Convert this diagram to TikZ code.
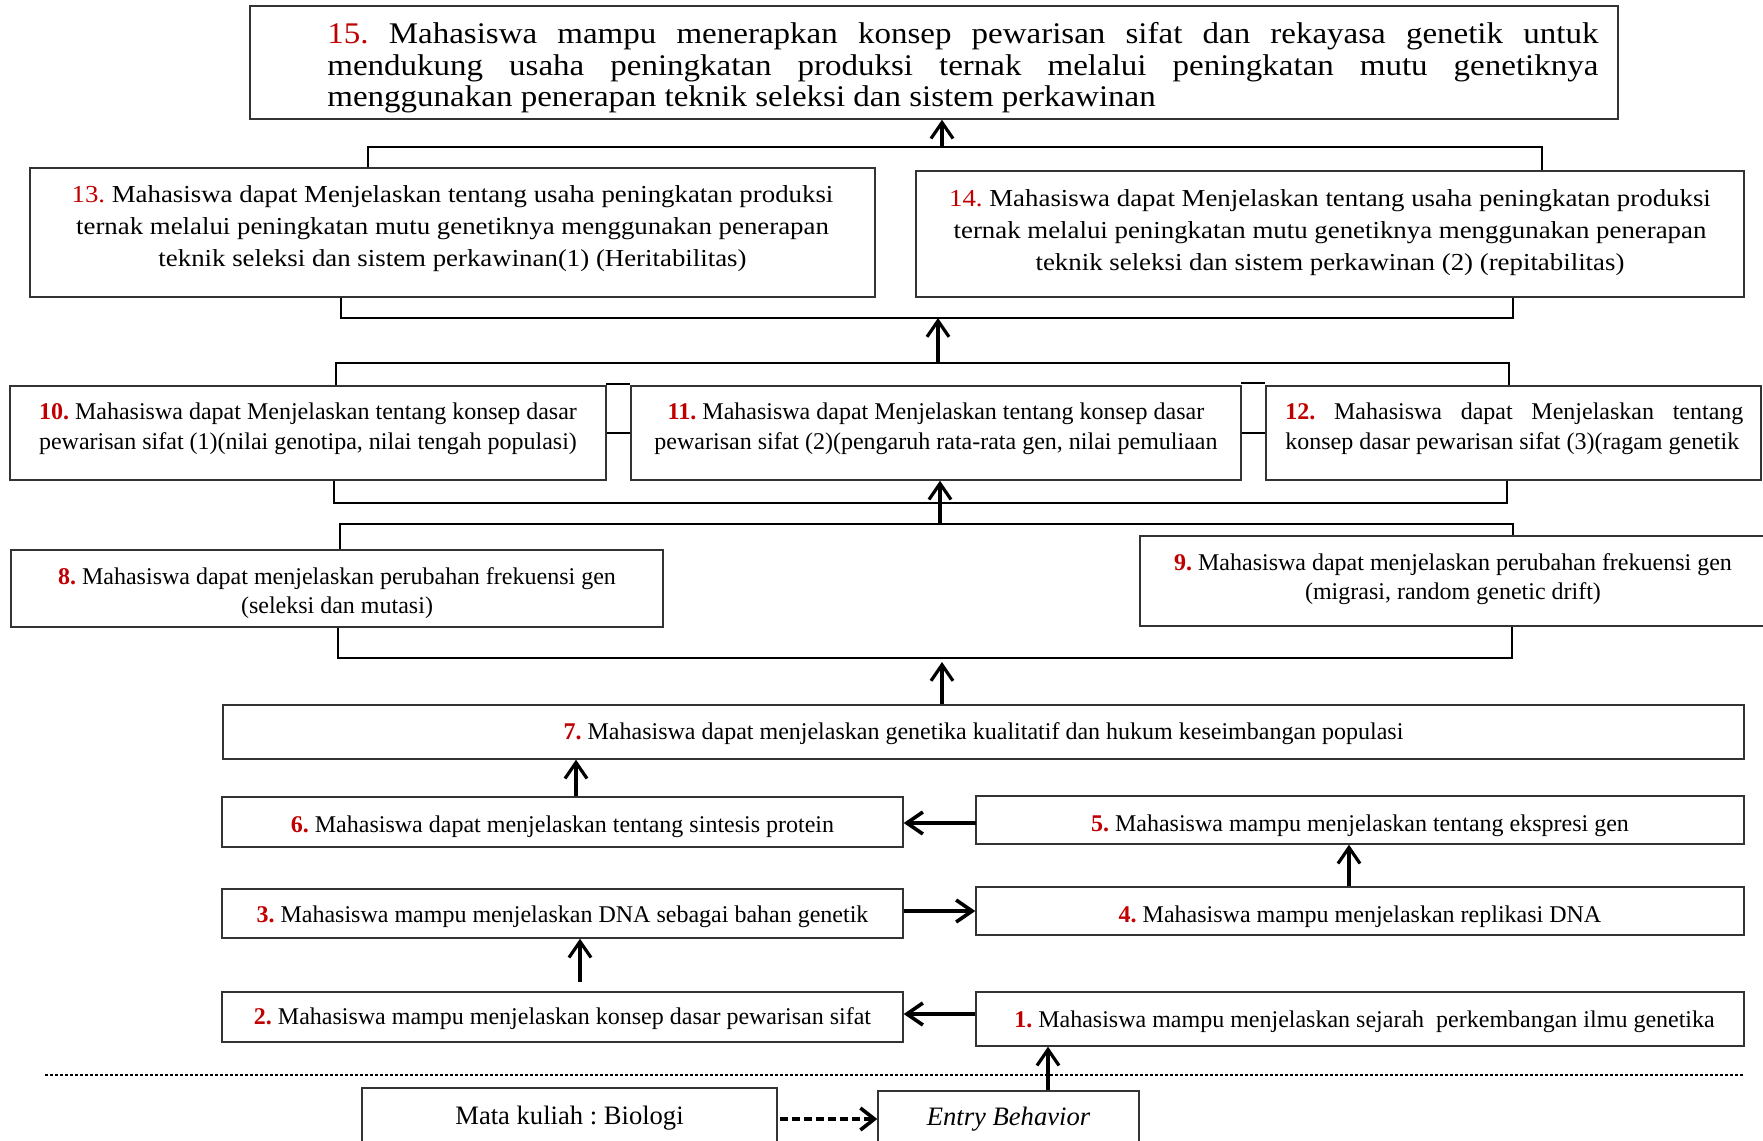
\documentclass[tikz,border=0pt]{standalone}
\usepackage{fontspec}
\setmainfont{Liberation Serif}
\newfontfamily\antiqua[FakeStretch=1.1]{Liberation Serif}
\usetikzlibrary{arrows.meta}
\definecolor{numred}{HTML}{C00000}
\newcommand\nb[1]{\textcolor{numred}{\textbf{#1}}}
\newcommand\nr[1]{\textcolor{numred}{#1}}
\hyphenpenalty=10000
\exhyphenpenalty=10000
\frenchspacing
\begin{document}
\begin{tikzpicture}[x=0.5pt,y=-0.5pt,
  bx/.style={draw=black!80, line width=0.7pt, rectangle, inner sep=0pt},
  txt/.style={inner sep=0pt, align=center, font=\fontsize{12}{14.8}\selectfont},
  ttl/.style={inner sep=0pt, align=center, font=\antiqua\fontsize{12.2}{16}\selectfont},
  bus/.style={line width=0.7pt},
  arrv/.style={line width=2pt, -{Straight Barb[length=8pt,width=11pt,line width=1.6pt]}},
  arrh/.style={line width=2.3pt, -{Straight Barb[length=8pt,width=11pt,line width=1.8pt]}},
  arrd/.style={line width=2pt, dash pattern=on 4pt off 2pt, -{Straight Barb[length=7pt,width=11pt,line width=1.8pt]}},
]
\useasboundingbox (0,0) rectangle (1763,1141);

% boxes
\node[bx, minimum width=684pt, minimum height=56.5pt] (b15) at (934,62.5) {};
\node[bx, minimum width=422.5pt, minimum height=64.5pt] (b13) at (452.5,232.5) {};
\node[bx, minimum width=414pt, minimum height=63pt] (b14) at (1330,234) {};
\node[bx, minimum width=298pt, minimum height=47pt] (b10) at (308,433) {};
\node[bx, minimum width=305pt, minimum height=47pt] (b11) at (936,433) {};
\node[bx, minimum width=247.5pt, minimum height=47pt] (b12) at (1513.5,433) {};
\node[bx, minimum width=326pt, minimum height=38.5pt] (b8) at (337,588.5) {};
\node[bx, minimum width=315pt, minimum height=45pt] (b9) at (1455,581) {};
\node[bx, minimum width=760.5pt, minimum height=27pt] (b7) at (983.5,732) {};
\node[bx, minimum width=340.5pt, minimum height=25pt] (b6) at (562.5,822) {};
\node[bx, minimum width=384pt, minimum height=24pt] (b5) at (1360,820) {};
\node[bx, minimum width=340.5pt, minimum height=24.5pt] (b3) at (562.5,913.5) {};
\node[bx, minimum width=384pt, minimum height=24pt] (b4) at (1360,911) {};
\node[bx, minimum width=340.5pt, minimum height=25pt] (b2) at (562.5,1017) {};
\node[bx, minimum width=384pt, minimum height=27pt] (b1) at (1360,1019) {};
\node[bx, minimum width=207.5pt, minimum height=31pt] (bm) at (569.5,1119) {};
\node[bx, minimum width=130.5pt, minimum height=29.5pt] (be) at (1008.5,1120.5) {};

% texts
\node[inner sep=0pt, anchor=west, align=left, font=\antiqua\fontsize{15}{15.75}\selectfont] (t15) at (327,68)
 {\makebox[635.5pt][s]{\nr{15.} Mahasiswa mampu menerapkan konsep pewarisan sifat dan rekayasa genetik untuk}\\
  \makebox[635.5pt][s]{mendukung usaha peningkatan produksi ternak melalui peningkatan mutu genetiknya}\\
  menggunakan penerapan teknik seleksi dan sistem perkawinan};
\node[ttl] (t13) at (452.5,229) {\nr{13.} Mahasiswa dapat Menjelaskan tentang usaha peningkatan produksi\\ ternak melalui peningkatan mutu genetiknya menggunakan penerapan\\ teknik seleksi dan sistem perkawinan(1) (Heritabilitas)};
\node[ttl] (t14) at (1330,233) {\nr{14.} Mahasiswa dapat Menjelaskan tentang usaha peningkatan produksi\\ ternak melalui peningkatan mutu genetiknya menggunakan penerapan\\ teknik seleksi dan sistem perkawinan (2) (repitabilitas)};
\node[txt] (t10) at (308,429) {\nb{10.} Mahasiswa dapat Menjelaskan tentang konsep dasar\\ pewarisan sifat (1)(nilai genotipa, nilai tengah populasi)};
\node[txt] (t11) at (936,429) {\nb{11.} Mahasiswa dapat Menjelaskan tentang konsep dasar\\ pewarisan sifat (2)(pengaruh rata-rata gen, nilai pemuliaan};
\node[txt, align=left, anchor=west] (t12) at (1285,429) {\makebox[229pt][s]{\nb{12.} Mahasiswa dapat Menjelaskan tentang}\\ konsep dasar pewarisan sifat (3)(ragam genetik};
\node[txt] (t8) at (337,593) {\nb{8.} Mahasiswa dapat menjelaskan perubahan frekuensi gen\\ (seleksi dan mutasi)};
\node[txt] (t9) at (1453,579) {\nb{9.} Mahasiswa dapat menjelaskan perubahan frekuensi gen\\ (migrasi, random genetic drift)};
\node[txt] (t7) at (983.5,734) {\nb{7.} Mahasiswa dapat menjelaskan genetika kualitatif dan hukum keseimbangan populasi};
\node[txt] (t6) at (562.5,827) {\nb{6.} Mahasiswa dapat menjelaskan tentang sintesis protein};
\node[txt] (t5) at (1360,825.5) {\nb{5.} Mahasiswa mampu menjelaskan tentang ekspresi gen};
\node[txt] (t3) at (562.5,917) {\nb{3.} Mahasiswa mampu menjelaskan DNA sebagai bahan genetik};
\node[txt] (t4) at (1360,916.5) {\nb{4.} Mahasiswa mampu menjelaskan replikasi DNA};
\node[txt] (t2) at (562.5,1019) {\nb{2.} Mahasiswa mampu menjelaskan konsep dasar pewarisan sifat};
\node[txt] (t1) at (1364.5,1021.5) {\nb{1.} Mahasiswa mampu menjelaskan sejarah~ perkembangan ilmu genetika};
\node[txt, font=\fontsize{13.3}{16}\selectfont] (tm) at (569.5,1118) {Mata kuliah : Biologi};
\node[txt, font=\fontsize{13.3}{16}\selectfont\itshape] (te) at (1008.5,1119) {Entry Behavior};

% bus 13/14 -> 15
\coordinate (u1) at (368,147); \coordinate (u2) at (1542,147); \coordinate (u3) at (942,147);
\draw[bus] (b13.north -| u1) -- (u1) -- (u2) -- (b14.north -| u2);
\draw[arrv] (u3) -- (b15.south -| u3);

% bus below 13/14
\coordinate (d1) at (341,318); \coordinate (d2) at (1513,318);
\draw[bus] (b13.south -| d1) -- (d1) -- (d2) -- (b14.south -| d2);
\coordinate (e1) at (336,363); \coordinate (e2) at (1509,363); \coordinate (e3) at (938,363);
\draw[arrv] (e3) -- (e3 |- d1);
\draw[bus] (b10.north -| e1) -- (e1) -- (e2) -- (b12.north -| e2);

% small gap connectors
\coordinate (g1) at (606,384); \coordinate (g2) at (1241,383);
\draw[bus] (g1) -- (g1 -| b11.west);
\draw[bus] (b10.east) -- (b11.west);
\draw[bus] (g2) -- (g2 -| b12.west);
\draw[bus] (b11.east) -- (b12.west);

% bus below 10-12
\coordinate (f1) at (334,503); \coordinate (f2) at (1507,503);
\draw[bus] (b10.south -| f1) -- (f1) -- (f2) -- (b12.south -| f2);
\coordinate (h1) at (340,524); \coordinate (h2) at (1513,524); \coordinate (h3) at (940,524);
\draw[arrv] (h3) -- (h3 |- b11.south);
\draw[bus] (b8.north -| h1) -- (h1) -- (h2) -- (b9.north -| h2);

% bus below 8/9
\coordinate (k1) at (338,658); \coordinate (k2) at (1512,658); \coordinate (k3) at (942,662);
\draw[bus] (b8.south -| k1) -- (k1) -- (k2) -- (b9.south -| k2);
\draw[arrv] (b7.north -| k3) -- (k3);

% lower arrows
\coordinate (m67) at (576,797);
\draw[arrv] (b6.north -| m67) -- (b7.south -| m67);
\coordinate (n56) at (976,823);
\draw[arrh] (n56) -- (n56 -| b6.east);
\coordinate (p45) at (1349,887);
\draw[arrv] (b4.north -| p45) -- (b5.south -| p45);
\coordinate (q34) at (903,911);
\draw[arrh] (b3.east |- q34) -- (b4.west |- q34);
\coordinate (r23) at (580,982);
\draw[arrv] (r23) -- (r23 |- b3.south);
\coordinate (s12) at (976,1014);
\draw[arrh] (b1.west |- s12) -- (b2.east |- s12);
\coordinate (w1) at (1048,1091);
\draw[arrv] (be.north -| w1) -- (b1.south -| w1);
\coordinate (z1) at (780,1119);
\draw[arrd] (z1) -- (be.west |- z1);

% dotted divider
\coordinate (dl) at (45,1075); \coordinate (dr) at (1743,1075);
\draw[line width=0.6pt, dash pattern=on 1.5pt off 1pt] (dl) -- (dr);
\end{tikzpicture}
\end{document}
